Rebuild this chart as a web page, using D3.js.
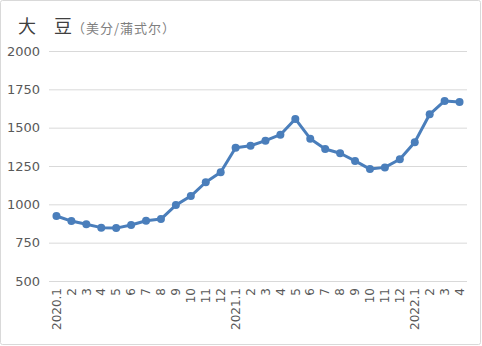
<!DOCTYPE html>
<html><head><meta charset="utf-8">
<script src="https://cdn.jsdelivr.net/npm/d3@7"></script>
<style>body{margin:0;background:#fff;}svg{display:block;}</style>
</head><body>
<svg id="c" width="482" height="346"></svg>
<script>
const categories = ["2020.1","2","3","4","5","6","7","8","9","10","11","12",
  "2021.1","2","3","4","5","6","7","8","9","10","11","12",
  "2022.1","2","3","4"];
const values = [924,891,870,848,845,865,893,904,995,1054,1144,1209,
  1369,1382,1415,1454,1557,1428,1361,1333,1283,1230,1241,1294,
  1405,1587,1674,1667];
const yTicks = [500,750,1000,1250,1500,1750,2000];
const titleMain = "大　豆";
const titleUnit = "（美分/蒲式尔）";

(function(){
const svg = d3.select("#c");
const font = "'Noto Sans CJK SC','DejaVu Sans',sans-serif";
svg.append("rect").attr("x",0.5).attr("y",0.5).attr("width",480).attr("height",344)
  .attr("fill","#fff").attr("stroke","#d9d9d9").attr("rx",2);

const mL = 49, mR = 467, mT = 51, mB = 281;
const x = d3.scaleBand().domain(d3.range(categories.length)).range([mL,mR]);
const y = d3.scaleLinear().domain([500,2000]).range([mB,mT]);

const gy = svg.append("g").attr("transform",`translate(${mL},0)`)
  .call(d3.axisLeft(y).tickValues(yTicks).tickSize(-(mR-mL)).tickPadding(8).tickFormat(d3.format("d")));
gy.select(".domain").remove();
gy.selectAll(".tick line").attr("stroke","#d9d9d9").attr("stroke-width",1);
gy.selectAll(".tick text").attr("fill","#595959").attr("font-size",13)
  .attr("font-family","'DejaVu Sans',sans-serif").attr("x",-9);

const gx = svg.append("g").attr("transform",`translate(0,${mB})`)
  .call(d3.axisBottom(x).tickSize(0).tickFormat(i=>categories[i]));
gx.select(".domain").remove();
gx.selectAll(".tick text").attr("fill","#595959").attr("font-size",12)
  .attr("font-family","'DejaVu Sans',sans-serif")
  .attr("transform","rotate(-90)").attr("text-anchor","end")
  .attr("x",-7).attr("y",0).attr("dy","0.35em");

const line = d3.line().x((d,i)=>x(i)+x.bandwidth()/2).y(d=>y(d));
svg.append("path").datum(values).attr("d",line).attr("fill","none")
  .attr("stroke","#4a7ebb").attr("stroke-width",3).attr("stroke-linejoin","round");
svg.append("g").selectAll("circle").data(values).join("circle")
  .attr("cx",(d,i)=>x(i)+x.bandwidth()/2).attr("cy",d=>y(d)).attr("r",4)
  .attr("fill","#4a7ebb");

const t = svg.append("text").attr("x",18).attr("y",33).attr("font-family",font);
t.append("tspan").text(titleMain).attr("font-size",18).attr("fill","#404040");
t.append("tspan").text(titleUnit).attr("font-size",13).attr("fill","#7f7f7f").attr("letter-spacing",1);
})();
</script>
</body></html>
